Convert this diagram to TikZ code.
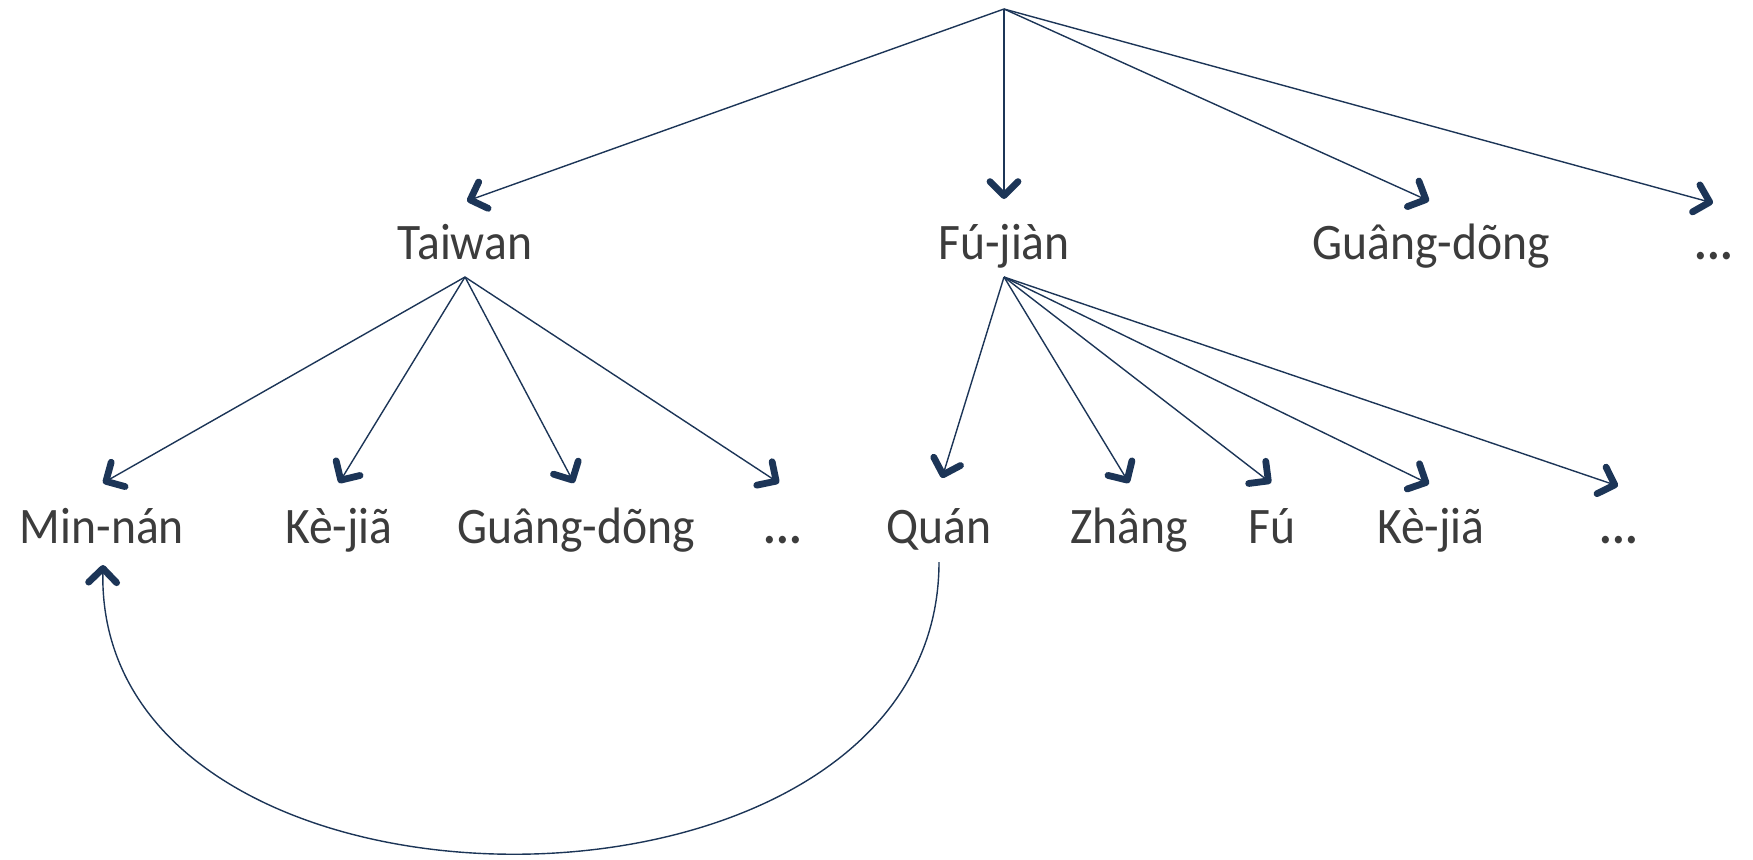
\documentclass[tikz,border=0pt]{standalone}
\usepackage{fontspec}
\setmainfont{Carlito}[FakeStretch=0.93]
\usetikzlibrary{arrows.meta}
\definecolor{linecol}{HTML}{1C3557}
\definecolor{textcol}{HTML}{3C3C3C}
\tikzset{barbtip/.tip={Straight Barb[length=7pt,width=14pt,line width=3.4pt,round]}}
\begin{document}
\begin{tikzpicture}[x=0.5pt,y=-0.5pt,
  lbl/.style={anchor=base,inner sep=0pt,text=textcol,font=\fontsize{25.6pt}{30pt}\selectfont},
  conn/.style={draw=linecol,line width=0.7pt,-barbtip}]
\useasboundingbox (0,0) rectangle (1753,859);
% top level
\coordinate (root) at (1004,9);
\node[lbl] (taiwan) at (465,259) {Taiwan};
\node[lbl] (fujian) at (1004,259) {Fú-jiàn};
\node[lbl] (gd1) at (1431,259) {Guâng-dõng};
\node[lbl] (dots1) at (1714,259) {\textbf{...}};
\coordinate (taiwan-in) at (467,201);
\coordinate (fujian-in) at (1004,199);
\coordinate (gd1-in) at (1429,201);
\coordinate (dots1-in) at (1713,203);
\coordinate (taiwan-out) at (465,277);
\coordinate (fujian-out) at (1004,277);
% bottom level
\node[lbl] (minnan) at (102,543) {Min-nán};
\node[lbl] (kejia1) at (339,543) {Kè-jiã};
\node[lbl] (gd2) at (576,543) {Guâng-dõng};
\node[lbl] (dots2) at (783,543) {\textbf{...}};
\node[lbl] (quan) at (939,543) {Quán};
\node[lbl] (zhang) at (1129,543) {Zhâng};
\node[lbl] (fu) at (1272,543) {Fú};
\node[lbl] (kejia2) at (1431,543) {Kè-jiã};
\node[lbl] (dots3) at (1619,543) {\textbf{...}};
\coordinate (minnan-in) at (103,483);
\coordinate (kejia1-in) at (339,483);
\coordinate (gd2-in) at (574,483);
\coordinate (dots2-in) at (779,483);
\coordinate (quan-in) at (942,478);
\coordinate (zhang-in) at (1129,483);
\coordinate (fu-in) at (1271,483);
\coordinate (kejia2-in) at (1429,484);
\coordinate (dots3-in) at (1618,486);
\coordinate (quan-out) at (939,562);
\coordinate (minnan-back) at (103,565);
% connectors
\foreach \t in {taiwan,fujian,gd1,dots1} \draw[conn] (root) -- (\t-in);
\foreach \t in {minnan,kejia1,gd2,dots2} \draw[conn] (taiwan-out) -- (\t-in);
\foreach \t in {quan,zhang,fu,kejia2,dots3} \draw[conn] (fujian-out) -- (\t-in);
\draw[conn] (quan-out) .. controls (939,950) and (95,950) .. (minnan-back);
\end{tikzpicture}
\end{document}
